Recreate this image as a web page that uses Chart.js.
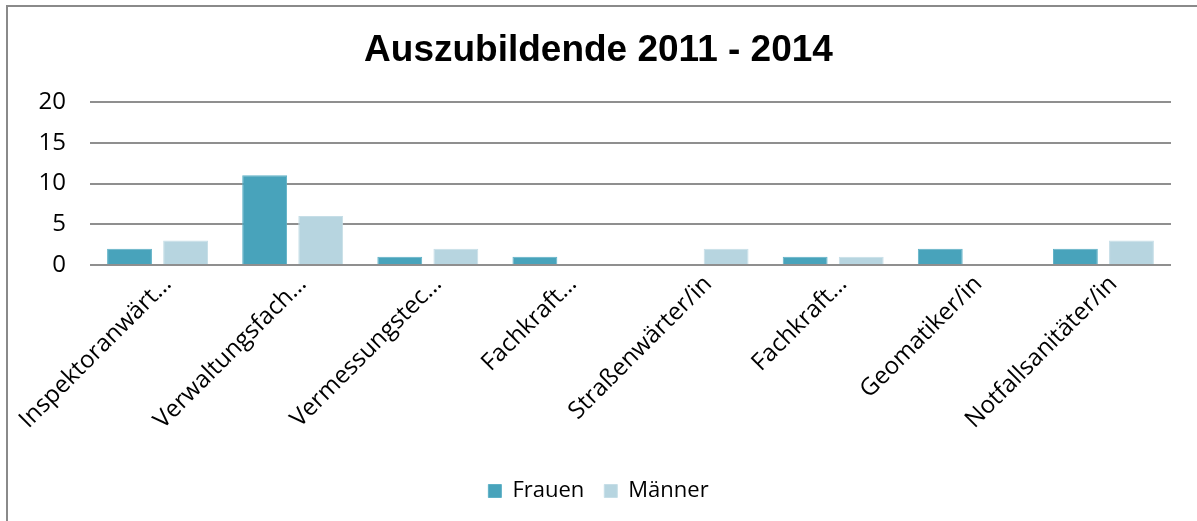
<!DOCTYPE html>
<html>
<head>
<meta charset="utf-8">
<script src="https://cdn.jsdelivr.net/npm/chart.js@4.4.0/dist/chart.umd.min.js"></script>
<style>
  html, body { margin:0; padding:0; background:#fff; }
  #wrap { position:relative; width:1197px; height:521px; overflow:hidden; }
  #frame { position:absolute; left:6px; top:5px; width:1300px; height:600px;
           border-left:2px solid #8a8a8a; border-top:2px solid #8a8a8a; }
  #cv { position:absolute; left:0; top:0; }
</style>
</head>
<body>
<div id="wrap">
  <div id="frame"></div>
  <canvas id="cv" width="1197" height="521"></canvas>
</div>
<script>
// ---------- Data ----------
const categories = [
  'Inspektoranwärt…', 'Verwaltungsfach…', 'Vermessungstec…', 'Fachkraft…',
  'Straßenwärter/in', 'Fachkraft…', 'Geomatiker/in', 'Notfallsanitäter/in'
];
const frauen = [2, 11, 1, 1, 0, 1, 2, 2];
const maenner = [3, 6, 2, 0, 2, 1, 0, 3];
const yTicks = [0, 5, 10, 15, 20];

// ---------- Styles ----------
const cFrauen = '#48a3bb';
const cMaenner = '#b7d5e0';
const gridColor = '#8f8f8f';
const FONT = 'Open Sans';

const chart = new Chart(document.getElementById('cv'), {
  type: 'bar',
  data: {
    labels: categories,
    datasets: [
      { label:'Frauen', data: frauen, backgroundColor: cFrauen, borderColor:'#5fb1c6', borderWidth:1,
        barPercentage:0.80, categoryPercentage:0.83 },
      { label:'Männer', data: maenner, backgroundColor: cMaenner, borderColor:'#c6dee7', borderWidth:1,
        barPercentage:0.80, categoryPercentage:0.83 }
    ]
  },
  options: {
    responsive: false,
    animation: false,
    layout: { padding: { left:0, right:0, top:29, bottom:9 } },
    plugins: {
      title: { display:true, text:'Auszubildende 2011 - 2014', color:'#000',
               font:{ family:'Liberation Sans', size:37, weight:'bold' },
               padding:{ top:0, bottom:28.6 } },
      legend: { position:'bottom',
                labels:{ color:'#000', font:{ family:FONT, size:22 }, boxWidth:13, boxHeight:13,
                         padding:20 } },
      tooltip: { enabled:false }
    },
    scales: {
      x: {
        afterFit(s){ s.height = 195; },
        grid:{ display:false }, border:{ display:false },
        ticks:{ color:'#000', font:{ family:FONT, size:24 }, minRotation:45, maxRotation:45,
                autoSkip:false, padding:-3, labelOffset:10 }
      },
      y: {
        min:0, max:20,
        afterFit(s){ s.width = 90; },
        afterBuildTicks(s){ s.ticks = yTicks.map(v => ({ value:v })); },
        grid:{ color:gridColor, lineWidth:2, drawTicks:false },
        border:{ display:false },
        ticks:{ color:'#000', font:{ family:FONT, size:24 }, padding:24 }
      },
      // empty right-hand spacer so the plot ends where the original does
      spacer: {
        position:'right', display:true,
        afterFit(s){ s.width = 26; },
        grid:{ display:false }, border:{ display:false }, ticks:{ display:false }
      }
    }
  }
});
</script>
</body>
</html>
